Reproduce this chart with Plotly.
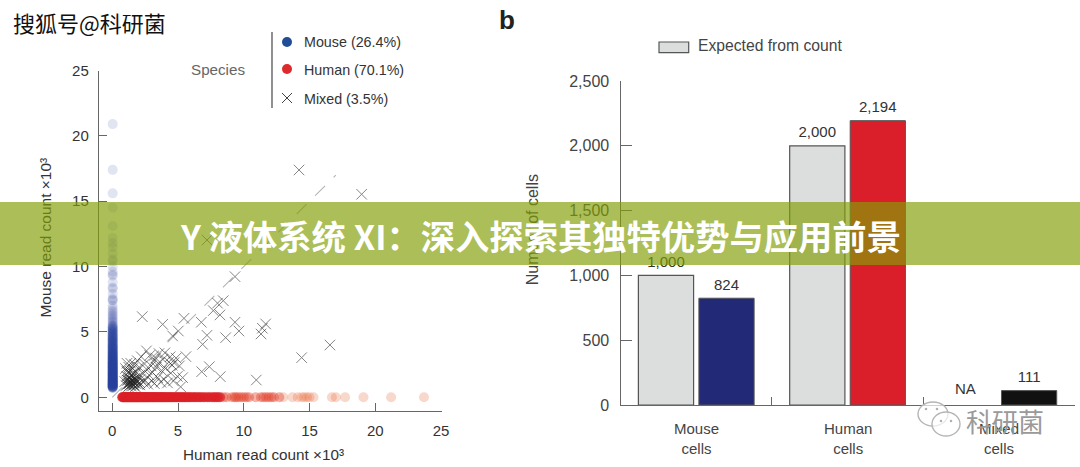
import plotly.graph_objects as go

W, H = 1080, 467
FONT = "Liberation Sans"
CJK = "Noto Sans CJK SC"
INK = "#333333"
AXIS = "#666666"

# ---------- panel a data (x 10^3 reads) ----------
mouse_cells_core_reads = [
    0.72, 0.75, 0.78, 0.8, 0.84, 0.87, 0.9, 0.93, 0.97, 1.0, 1.03, 1.07, 1.1, 1.14, 1.18, 1.2, 1.25, 1.28, 1.32, 1.36,
    1.4, 1.43, 1.47, 1.5, 1.55, 1.58, 1.62, 1.66, 1.7, 1.75, 1.78, 1.82, 1.87, 1.9, 1.95, 2.0, 2.03, 2.08, 2.12, 2.17,
    2.2, 2.25, 2.3, 2.34, 2.38, 2.43, 2.48, 2.52, 2.57, 2.6, 2.66, 2.7, 2.75, 2.8, 2.85, 2.9, 2.95, 3.0, 3.06, 3.1,
    3.16, 3.22, 3.27, 3.33, 3.38, 3.45, 3.5, 3.56, 3.63, 3.7, 3.76, 3.83, 3.9, 3.96, 4.05, 4.12, 4.2, 4.28, 4.35, 4.43,
    4.5, 4.6, 4.68, 4.75, 4.85, 4.95, 5.03, 5.14, 5.22, 5.33, 5.45,
]
mouse_cells_tail_reads = [
    5.52, 5.66, 5.78, 5.85, 5.98, 6.1, 6.24, 6.33, 6.5, 6.62, 6.8, 7.0, 7.4, 7.45, 7.55, 7.9, 8.3, 8.4, 8.8,
    9.3, 9.4, 9.6, 10.0, 10.4, 10.55, 11.0, 11.5, 11.8, 12.2, 13.1, 14.5, 15.6, 17.4, 20.9,
]
mouse_column_x = [0.03]

human_cells_core_reads = [
    0.75, 0.8, 0.85, 0.9, 0.95, 1.0, 1.05, 1.1, 1.15, 1.2, 1.25, 1.3, 1.35, 1.4, 1.46, 1.5, 1.56, 1.6, 1.66, 1.7,
    1.76, 1.8, 1.86, 1.9, 1.96, 2.0, 2.06, 2.12, 2.18, 2.24, 2.3, 2.36, 2.42, 2.48, 2.54, 2.6, 2.66, 2.72, 2.78, 2.85,
    2.92, 3.0, 3.06, 3.13, 3.2, 3.27, 3.35, 3.42, 3.5, 3.58, 3.65, 3.72, 3.8, 3.88, 3.95, 4.03, 4.12, 4.2, 4.3, 4.38,
    4.47, 4.55, 4.65, 4.75, 4.85, 4.95, 5.05, 5.15, 5.25, 5.35, 5.46, 5.55, 5.68, 5.8, 5.9, 6.05, 6.18, 6.3, 6.45, 6.6,
    6.72, 6.9, 7.05, 7.25, 7.4, 7.6, 7.75, 7.9, 8.05, 8.2,
]
human_cells_mid_reads = [8.45, 8.7, 9.1, 9.3, 9.42, 9.6, 9.8, 10.0, 10.2, 10.4, 10.9, 11.3, 11.5, 11.7, 11.9, 12.1,
                         12.3, 12.7]
human_cells_tail_reads = [13.0, 13.7, 14.1, 14.4, 14.6, 14.8, 15.0, 15.3, 16.7, 17.0, 17.7, 19.1, 21.2, 23.7]
human_row_y = [0.0]

mixed_human_reads = [
    2.28, 3.83, 5.45, 6.77, 8.44, 7.68, 8.19, 9.33, 9.33, 9.63, 7.2, 6.87, 8.62, 5.02, 4.59, 11.66, 11.41, 11.31, 14.4,
    16.55, 10.95, 6.8, 7.38, 8.21, 5.6, 14.2, 18.96, 7.2, 8.0,
    0.95, 1.0, 1.05, 1.1, 1.12, 1.15, 1.18, 1.2, 1.22, 1.25, 1.28, 1.3, 1.32, 1.35, 1.38, 1.4, 1.42, 1.45, 1.48, 1.5,
    1.55, 1.58, 1.6, 1.62, 1.65, 1.7, 1.72, 1.75, 1.8, 1.85, 1.9, 1.95, 2.0, 2.05, 2.1, 2.15, 2.2, 2.3, 2.35, 2.45,
    2.5, 2.6, 2.65, 2.7, 2.8, 2.85, 2.95, 3.0, 3.05, 3.15, 3.2, 3.3, 3.35, 3.45, 3.5, 3.55, 3.7, 3.75, 3.85, 3.9,
    4.0, 4.05, 4.2, 4.3, 4.4, 4.45, 4.55, 4.65, 4.7, 4.85, 4.95, 5.1, 5.2, 5.35, 1.1, 1.3, 1.45, 1.65, 1.85, 2.1,
    1.15, 1.25, 1.35, 1.4, 1.5, 1.55, 1.62, 1.7, 1.78, 1.85,
]
mixed_mouse_reads = [
    6.17, 5.58, 6.04, 5.74, 7.39, 6.63, 6.3, 9.23, 5.74, 5.07, 4.74, 4.05, 4.56, 5.07, 4.69, 5.61, 5.28, 4.84, 3.03,
    4.0, 1.32, 1.96, 2.34, 1.58, 3.11, 17.39, 15.53, 12.03, 7.2,
    1.2, 2.2, 0.9, 1.6, 2.6, 1.0, 1.9, 1.3, 0.8, 2.3, 1.5, 1.1, 0.9, 2.0, 1.2, 2.6, 1.4, 0.85, 1.7,
    1.05, 2.2, 1.3, 0.9, 1.8, 1.1, 2.5, 1.45, 0.8, 1.95, 1.2, 2.8, 1.0, 1.6, 2.3, 0.95, 1.4, 3.1, 1.85, 1.15,
    2.55, 1.3, 3.55, 2.1, 1.0, 1.7, 3.2, 2.4, 1.25, 1.9, 2.75, 1.05, 3.0, 2.3, 1.5, 2.6, 3.35, 1.15, 2.05, 2.9,
    1.4, 3.4, 2.2, 1.1, 2.7, 3.1, 1.85, 2.45, 1.25, 2.65, 3.0, 1.6, 2.4, 0.8, 1.5, 2.0, 1.05, 1.75, 0.95, 1.3,
    1.1, 1.3, 1.05, 1.2, 1.35, 1.0, 1.25, 1.15, 1.4, 1.05,
]
identity_line = [0, 17]

species_labels = ["Mouse (26.4%)", "Human (70.1%)", "Mixed (3.5%)"]
x_ticks_a = [0, 5, 10, 15, 20, 25]
y_ticks_a = [0, 5, 10, 15, 20, 25]

# ---------- panel b data ----------
categories = ["Mouse<br>cells", "Human<br>cells", "Mixed<br>cells"]
category_pos = [0.5, 1.5, 2.5]
expected_pos = [0.3, 1.3]
expected_values = [1000, 2000]
observed_pos = [0.7, 1.7, 2.7]
observed_values = [824, 2194, 111]
observed_colors = ["#222a78", "#da1f2a", "#111111"]
y_ticks_b = [0, 500, 1000, 1500, 2000, 2500]


def fx(p):
    return p / W


def fy(p):
    return 1 - p / H


def dots(xs, ys, color, opacity):
    return go.Scatter(x=xs, y=ys, mode="markers", xaxis="x", yaxis="y", showlegend=False,
                      marker=dict(size=10, color=color, opacity=opacity, line=dict(width=0)))


def bar_labels(xs, ys):
    return go.Scatter(x=xs, y=ys, text=[f"{v:,}" for v in ys], mode="markers+text", textposition="top center",
                      xaxis="x2", yaxis="y2", showlegend=False, cliponaxis=False,
                      marker=dict(size=6, opacity=0),
                      textfont=dict(family=FONT, size=15, color=INK))


fig = go.Figure()
fig.add_trace(go.Scatter(x=identity_line, y=identity_line, mode="lines", xaxis="x", yaxis="y",
                         line=dict(color="#b4b4b4", width=1.1, dash="14px,12px"), showlegend=False))
fig.add_trace(go.Scatter(x=mixed_human_reads, y=mixed_mouse_reads, mode="markers", xaxis="x", yaxis="y",
                         marker=dict(symbol="x-thin", size=10.5, opacity=0.55, line=dict(color="#222222", width=1)),
                         showlegend=False))
fig.add_trace(dots(mouse_column_x * len(mouse_cells_tail_reads), mouse_cells_tail_reads, "#27439a", 0.14))
fig.add_trace(dots(mouse_column_x * len(mouse_cells_core_reads), mouse_cells_core_reads, "#27439a", 0.3))
fig.add_trace(dots(human_cells_tail_reads, human_row_y * len(human_cells_tail_reads), "#e65a28", 0.24))
fig.add_trace(dots(human_cells_mid_reads, human_row_y * len(human_cells_mid_reads), "#e0402a", 0.4))
fig.add_trace(dots(human_cells_core_reads, human_row_y * len(human_cells_core_reads), "#dc2026", 0.7))

fig.add_trace(go.Bar(x=expected_pos, y=expected_values, width=0.365, xaxis="x2", yaxis="y2",
                     marker=dict(color="#dcdedd", line=dict(color="#555555", width=1.2)), showlegend=False))
fig.add_trace(go.Bar(x=observed_pos, y=observed_values, width=0.365, xaxis="x2", yaxis="y2",
                     marker=dict(color=observed_colors, line=dict(color="#555555", width=1)), showlegend=False))
fig.add_trace(bar_labels(expected_pos, expected_values))
fig.add_trace(bar_labels(observed_pos, observed_values))

# Legend glyphs, placed on a full-figure pixel axis
fig.add_trace(go.Scatter(x=[287], y=[42], mode="markers", xaxis="x3", yaxis="y3", showlegend=False,
                         marker=dict(size=10, color="#1f4d96")))
fig.add_trace(go.Scatter(x=[287], y=[69], mode="markers", xaxis="x3", yaxis="y3", showlegend=False,
                         marker=dict(size=10, color="#dd2a2a")))
fig.add_trace(go.Scatter(x=[287], y=[98], mode="markers", xaxis="x3", yaxis="y3", showlegend=False,
                         marker=dict(symbol="x-thin", size=10, line=dict(color="#444444", width=1))))

tick_font_a = dict(family=FONT, size=15, color=INK)
tick_font_b = dict(family=FONT, size=16, color="#444444")
axis_common = dict(showgrid=False, zeroline=False, showline=True, linecolor=AXIS, linewidth=1.4,
                   ticks="inside", tickcolor=AXIS, tickwidth=1.2, mirror=False, automargin=False)

layout = dict(
    template="none",
    width=W, height=H, margin=dict(l=0, r=0, t=0, b=0, pad=0), autosize=False,
    paper_bgcolor="white", plot_bgcolor="rgba(0,0,0,0)", barmode="overlay", showlegend=False,
    xaxis=dict(domain=[fx(99), fx(442)], range=[-1.01, 25.07], tickvals=x_ticks_a, ticklen=8,
               tickfont=tick_font_a, ticklabelstandoff=6, anchor="y", **axis_common),
    yaxis=dict(domain=[fy(411), fy(70.5)], range=[-1.05, 25], tickvals=y_ticks_a, ticklen=8,
               tickfont=tick_font_a, ticklabelstandoff=6, anchor="x", **axis_common),
    xaxis2=dict(domain=[fx(620.6), fx(1074.5)], range=[0, 3], tickvals=[1, 2, 3], ticktext=["", "", ""], ticklen=8,
                anchor="y2", **axis_common),
    yaxis2=dict(domain=[fy(405), fy(81)], range=[0, 2500], tickvals=y_ticks_b,
                ticktext=[f"{v:,}" for v in y_ticks_b], ticklen=11, tickfont=tick_font_b,
                ticklabelstandoff=7, anchor="x2", **axis_common),
    xaxis3=dict(domain=[0, 1], range=[0, W], visible=False, anchor="y3"),
    yaxis3=dict(domain=[0, 1], range=[H, 0], visible=False, anchor="x3"),
    # Rotated axis titles as tick labels, so that the translucent band lies over them
    yaxis4=dict(overlaying="y3", domain=[0, 1], range=[H, 0], anchor="free", position=fx(54), side="left",
                showgrid=False, zeroline=False, showline=False, ticks="", tickangle=-90, automargin=False,
                tickvals=[240], ticktext=["Mouse read count ×10³"],
                tickfont=dict(family=FONT, size=15.5, color=INK)),
    yaxis5=dict(overlaying="y3", domain=[0, 1], range=[H, 0], anchor="free", position=fx(541), side="left",
                showgrid=False, zeroline=False, showline=False, ticks="", tickangle=-90, automargin=False,
                tickvals=[232], ticktext=["Number of cells"],
                tickfont=dict(family=FONT, size=16, color="#444444")),
)
fig.update_layout(**layout)
fig.add_trace(go.Scatter(x=[None], y=[None], xaxis="x3", yaxis="y4", showlegend=False))
fig.add_trace(go.Scatter(x=[None], y=[None], xaxis="x3", yaxis="y5", showlegend=False))


def px_rect(x0, y0, x1, y1, **kw):
    return dict(type="rect", xref="paper", yref="paper", x0=fx(x0), x1=fx(x1), y0=fy(y0), y1=fy(y1), **kw)


def px_oval(cx, cy, rx, ry, **kw):
    return dict(type="circle", xref="paper", yref="paper", x0=fx(cx - rx), x1=fx(cx + rx),
                y0=fy(cy + ry), y1=fy(cy - ry), layer="above", **kw)


def px_line(x0, y0, x1, y1, **kw):
    return dict(type="line", xref="paper", yref="paper", x0=fx(x0), x1=fx(x1), y0=fy(y0), y1=fy(y1), **kw)


wechat = dict(line=dict(color="#b5b5b5", width=1.4), fillcolor="rgba(255,255,255,0.7)")
eye = dict(line=dict(width=0), fillcolor="#b0b0b0")
shapes = [
    px_line(272, 32, 272, 108, line=dict(color="#555555", width=1.3)),
    px_rect(659, 42, 688.7, 52.7, line=dict(color="#555555", width=1.2), fillcolor="#dcdedd"),
    px_oval(933, 414, 15, 12, **wechat),
    px_oval(946, 424, 14, 12, **wechat),
    px_oval(926, 409, 1.3, 1.3, **eye), px_oval(937, 409, 1.3, 1.3, **eye),
    px_oval(941, 421, 1.3, 1.3, **eye), px_oval(951, 421, 1.3, 1.3, **eye),
    px_rect(0, 202, W, 265, layer="above", line=dict(width=0), fillcolor="rgba(130,158,6,0.67)"),
]


def note(text, x, y, size=14.3, color=INK, anchor="left", family=FONT, **kw):
    return dict(text=text, x=fx(x), y=fy(y), xref="paper", yref="paper", showarrow=False, xanchor=anchor,
                yanchor="middle", font=dict(family=family, size=size, color=color), **kw)


annotations = [
    note("Species", 217.5, 69, size=15.2, color="#666666", anchor="center"),
    note(species_labels[0], 302, 42),
    note(species_labels[1], 302, 70),
    note(species_labels[2], 302, 99),
    note("Human read count ×10³", 263.5, 454, size=15.3, anchor="center"),
    note("<b>b</b>", 507, 20, size=26, color="#222222", anchor="center"),
    note("Expected from count", 696, 46, size=15.7, color="#444444"),
]
for label, pos in zip(categories, category_pos):
    annotations.append(dict(text=label, x=pos, y=fy(438), xref="x2", yref="paper", showarrow=False,
                            yanchor="middle", font=dict(family=FONT, size=15, color="#444444")))
annotations.append(dict(text="NA", x=2.28, y=125, xref="x2", yref="y2", showarrow=False,
                        font=dict(family=FONT, size=15, color="#333333")))
annotations += [
    note("科研菌", 1005, 420, size=26, color="#9a9a9a", anchor="center", family=CJK),
    note("搜狐号@科研菌", 89, 22, size=22, color="#111111", anchor="center", family=CJK),
    note("<b>Y 液体系统 XI：深入探索其独特优势与应用前景</b>", 540, 235, size=34.3, color="white", anchor="center",
         family=CJK),
]
fig.update_layout(shapes=shapes, annotations=annotations)
fig.write_html("out.html", config=dict(displayModeBar=False),
               post_script="document.body.style.margin='0';document.body.style.overflow='hidden';")
